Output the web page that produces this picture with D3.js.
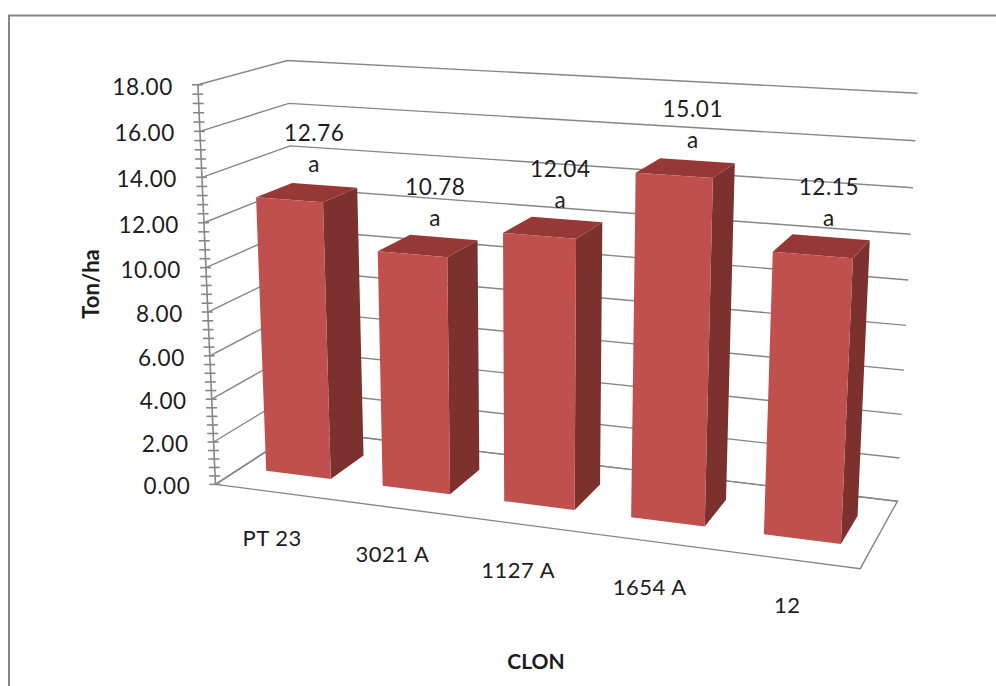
<!DOCTYPE html>
<html>
<head>
<meta charset="utf-8">
<script src="https://cdn.jsdelivr.net/npm/d3@7"></script>
<style>
  html, body { margin: 0; padding: 0; background: #fff; overflow: hidden; }
  svg { display: block; }
  text { font-family: Lato, "Open Sans", sans-serif; fill: #1c1c1c; }
</style>
</head>
<body>
<svg id="chart" width="996" height="686"></svg>
<script>
// Yield per clone
const clones = ["PT 23", "3021 A", "1127 A", "1654 A", "12"];
const yields = [12.76, 10.78, 12.04, 15.01, 12.15];
const groupings = ["a", "a", "a", "a", "a"];
const majorTicks = [0, 2, 4, 6, 8, 10, 12, 14, 16, 18];
const minorStep = 0.4;

// Box space: u across the clones, v up the value axis, w into the page (each 0..1).
const value = d3.scaleLinear().domain([0, 18]).range([0, 1]);
const band = d3.scaleBand().domain(clones).range([0, 1]).paddingInner(0.44).paddingOuter(0.22);
const depth = d3.scaleLinear().domain([0, 1]).range([0, 1]);
const barDepth = [0.29, 0.71];

// Camera calibration: box corners and wall ticks with their page positions [u, vValue, w, px, py].
const cameraPins = [
  [0, 0, 0, 217, 485], [0, 2, 0, 215, 442], [0, 4, 0, 212, 400], [0, 6, 0, 210, 356],
  [0, 8, 0, 208, 312], [0, 10, 0, 206, 266], [0, 12, 0, 203, 222], [0, 14, 0, 201, 177],
  [0, 16, 0, 199, 131], [0, 18, 0, 198, 85],
  [0, 18, 1, 289, 61], [0, 16, 1, 289, 104], [0, 14, 1, 290, 146], [0, 0, 1, 297, 430],
  [1, 18, 1, 918, 93], [1, 16, 1, 915, 141], [1, 14, 1, 913, 188], [1, 12, 1, 911, 235],
  [1, 10, 1, 908, 280], [1, 8, 1, 906, 325], [1, 6, 1, 904, 370], [1, 4, 1, 902, 414],
  [1, 2, 1, 900, 458], [1, 0, 1, 898, 500], [1, 0, 0, 859, 570]
];

// Least-squares fit of a 3x4 projective camera through the pins.
function solveCamera(pins) {
  const rows = [];
  for (const [u, val, w, px, py] of pins) {
    const v = value(val), x = px / 1000, y = py / 1000;
    rows.push([u, v, w, 1, 0, 0, 0, 0, -x * u, -x * v, -x * w, x]);
    rows.push([0, 0, 0, 0, u, v, w, 1, -y * u, -y * v, -y * w, y]);
  }
  const n = 11;
  const M = d3.range(n).map(i => d3.range(n + 1).map(j => d3.sum(rows, r => r[i] * r[j])));
  for (let c = 0; c < n; c++) {
    let pivot = c;
    for (let r = c + 1; r < n; r++) if (Math.abs(M[r][c]) > Math.abs(M[pivot][c])) pivot = r;
    [M[c], M[pivot]] = [M[pivot], M[c]];
    for (let r = 0; r < n; r++) {
      if (r === c) continue;
      const f = M[r][c] / M[c][c];
      for (let k = c; k <= n; k++) M[r][k] -= f * M[c][k];
    }
  }
  return d3.range(n).map(i => M[i][n] / M[i][i]);
}
const cam = solveCamera(cameraPins);

// Page position of a point given as [u, value, w].
function project([u, val, w]) {
  const v = value(val);
  const d = cam[8] * u + cam[9] * v + cam[10] * w + 1;
  return [
    1000 * (cam[0] * u + cam[1] * v + cam[2] * w + cam[3]) / d,
    1000 * (cam[4] * u + cam[5] * v + cam[6] * w + cam[7]) / d
  ];
}
const path = d3.line();
const closed = pts => path(pts.map(project)) + "Z";
const open = pts => path(pts.map(project));

const GRID = "#868686";
const svg = d3.select("#chart");

// Outer chart frame, running off the right and bottom of the page.
svg.append("path")
  .attr("d", "M9,700V15.5H1000")
  .attr("fill", "none").attr("stroke", GRID).attr("stroke-width", 2);

// Gridlines across the side wall and the back wall.
svg.append("g").selectAll("path").data(majorTicks).join("path")
  .attr("d", t => open([[0, t, 0], [0, t, depth(1)], [1, t, depth(1)]]))
  .attr("fill", "none").attr("stroke", GRID).attr("stroke-width", 1.4);

// Floor outline.
svg.append("path")
  .attr("d", closed([[0, 0, 0], [1, 0, 0], [1, 0, 1], [0, 0, 1]]))
  .attr("fill", "none").attr("stroke", GRID).attr("stroke-width", 1.4);

// Value axis with major and minor tick marks.
const axis = svg.append("g");
axis.append("path")
  .attr("d", open([[0, 0, 0], [0, 18, 0]]))
  .attr("fill", "none").attr("stroke", GRID).attr("stroke-width", 1.6);
axis.selectAll("line").data(d3.range(0, 18 + 1e-6, minorStep)).join("line")
  .each(function (t) {
    const [x, y] = project([0, t, 0]);
    d3.select(this).attr("x1", x - 6).attr("x2", x + 5).attr("y1", y).attr("y2", y);
  })
  .attr("stroke", GRID).attr("stroke-width", 1.6);
axis.selectAll("text").data(majorTicks).join("text")
  .attr("x", t => project([0, t, 0])[0] - 25)
  .attr("y", t => project([0, t, 0])[1] + 10)
  .attr("text-anchor", "end").attr("font-size", 22.5).attr("letter-spacing", 0.6)
  .text(t => t.toFixed(2));

// Bars: front, top and right side faces.
const bars = svg.append("g").selectAll("g").data(clones).join("g");
const corners = (c, i) => {
  const x0 = band(c), x1 = x0 + band.bandwidth(), [z0, z1] = barDepth, h = yields[i];
  return { x0, x1, z0, z1, h };
};
bars.append("path").attr("fill", "#7c312f").attr("d", (c, i) => {
  const { x1, z0, z1, h } = corners(c, i);
  return closed([[x1, 0, z0], [x1, 0, z1], [x1, h, z1], [x1, h, z0]]);
});
bars.append("path").attr("fill", "#953836").attr("d", (c, i) => {
  const { x0, x1, z0, z1, h } = corners(c, i);
  return closed([[x0, h, z0], [x1, h, z0], [x1, h, z1], [x0, h, z1]]);
});
bars.append("path").attr("fill", "#c0504d").attr("d", (c, i) => {
  const { x0, x1, z0, h } = corners(c, i);
  return closed([[x0, 0, z0], [x1, 0, z0], [x1, h, z0], [x0, h, z0]]);
});

// Value and grouping letter above each bar.
const topCentre = (c, i) => project([band(c) + band.bandwidth() / 2, yields[i], 0.5]);
const labels = svg.append("g").selectAll("g").data(clones).join("g")
  .attr("transform", (c, i) => { const [x, y] = topCentre(c, i); return `translate(${x + 7},${y})`; })
  .attr("text-anchor", "middle").attr("font-size", 22.5).attr("letter-spacing", 0.6);
labels.append("text").attr("y", -51).text((c, i) => yields[i].toFixed(2));
labels.append("text").attr("y", -20).text((c, i) => groupings[i]);

// Category labels under the floor edge.
svg.append("g").selectAll("text").data(clones).join("text")
  .attr("x", c => project([band(c) + band.bandwidth() / 2, 0, 0])[0] - 1.5)
  .attr("y", c => project([band(c) + band.bandwidth() / 2, 0, 0])[1] + 54)
  .attr("text-anchor", "middle").attr("font-size", 22).attr("letter-spacing", 0.5)
  .text(c => c);

// Axis titles.
svg.append("text").attr("transform", "translate(99,284) rotate(-90)")
  .attr("text-anchor", "middle").attr("font-size", 22).attr("font-weight", 700).text("Ton/ha");
svg.append("text").attr("x", 536).attr("y", 669)
  .attr("text-anchor", "middle").attr("font-size", 21).attr("font-weight", 700).text("CLON");
</script>
</body>
</html>
